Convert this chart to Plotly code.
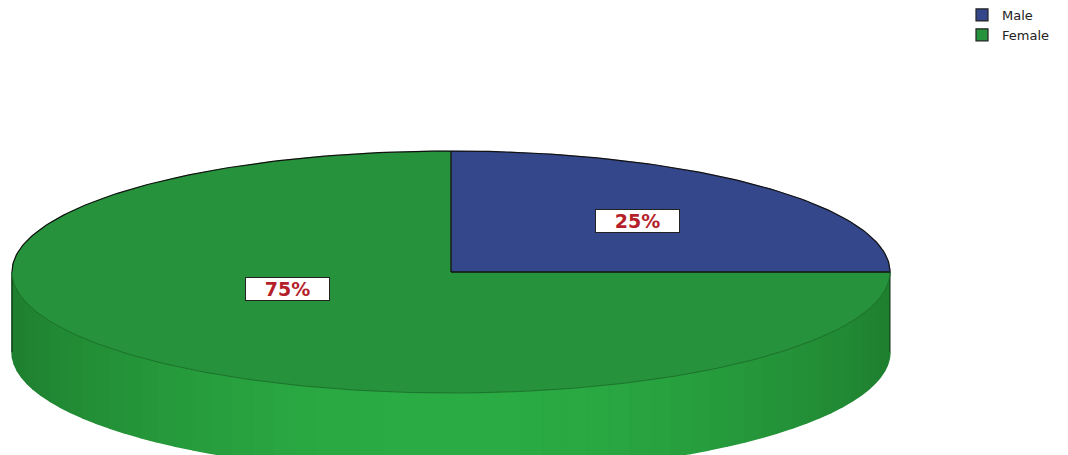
import numpy as np
import plotly.graph_objects as go

categories = ["Male", "Female"]
percentages = [25, 75]
top_colors = ["#33478A", "#26923B"]

# geometry (pixel-like axis units)
W, H = 1068, 455
cx, cy, rx, ry, depth = 451, 272, 439, 121, 80

fig = go.Figure()

# --- side of the cylinder (front half), shaded in vertical strips
n = 60
ts = np.linspace(0, np.pi, n + 1)
def side_color(t):
    c = np.cos(t)
    k = 1 - abs(c) ** 2
    lo = np.array([31, 128, 48])
    hi = np.array([43, 172, 68])
    col = lo + (hi - lo) * k
    return "rgb(%d,%d,%d)" % tuple(col)

for i in range(n):
    t = np.linspace(ts[i], ts[i + 1], 4)
    xt = cx + rx * np.cos(t)
    yt = cy + ry * np.sin(t)
    xs = list(xt) + list(xt[::-1])
    ys = list(yt) + list((yt + depth)[::-1])
    colr = side_color((ts[i] + ts[i + 1]) / 2)
    fig.add_trace(go.Scatter(x=xs, y=ys, mode="lines", fill="toself",
                             fillcolor=colr, line=dict(color=colr, width=1.5),
                             hoverinfo="skip", showlegend=False))

# left/right side edges
for t in [0, np.pi]:
    xe = cx + rx * np.cos(t)
    fig.add_trace(go.Scatter(x=[xe, xe], y=[cy, cy + depth], mode="lines",
                             line=dict(color="rgba(0,0,0,0.6)", width=1.2),
                             hoverinfo="skip", showlegend=False))

# --- top face slices
start = 0.0
total = sum(percentages)
for cat, p, col in zip(categories, percentages, top_colors):
    a = np.linspace(start, start + 2 * np.pi * p / total, 200)
    xs = [cx] + list(cx + rx * np.sin(a)) + [cx]
    ys = [cy] + list(cy - ry * np.cos(a)) + [cy]
    fig.add_trace(go.Scatter(x=xs, y=ys, mode="lines", fill="toself",
                             fillcolor=col, line=dict(color=col, width=0.5),
                             hoverinfo="skip", showlegend=False))
    start += 2 * np.pi * p / total

# radial boundaries
start = 0.0
for p in percentages:
    fig.add_trace(go.Scatter(x=[cx, cx + rx * np.sin(start)],
                             y=[cy, cy - ry * np.cos(start)], mode="lines",
                             line=dict(color="#111111", width=1.3),
                             hoverinfo="skip", showlegend=False))
    start += 2 * np.pi * p / total

# outline: back arc dark, front arc subtle
tb = np.linspace(np.pi, 2 * np.pi, 200)
fig.add_trace(go.Scatter(x=cx + rx * np.cos(tb), y=cy + ry * np.sin(tb), mode="lines",
                         line=dict(color="#111111", width=1.2),
                         hoverinfo="skip", showlegend=False))
tf = np.linspace(0, np.pi, 200)
fig.add_trace(go.Scatter(x=cx + rx * np.cos(tf), y=cy + ry * np.sin(tf), mode="lines",
                         line=dict(color="rgba(20,80,30,0.5)", width=1),
                         hoverinfo="skip", showlegend=False))

# legend entries
for cat, col in zip(categories, top_colors):
    fig.add_trace(go.Bar(x=[None], y=[None], name=cat,
                         marker=dict(color=col, line=dict(color="#222222", width=1.2))))

# labels
label_pos = [(637, 221), (287, 289)]
for p, (lx, ly) in zip(percentages, label_pos):
    fig.add_annotation(x=lx, y=ly, xref="x", yref="y", text="<b>%d%%</b>" % p,
                       showarrow=False, bgcolor="white", bordercolor="#222222",
                       borderwidth=1, width=81, height=20,
                       font=dict(family="DejaVu Sans", size=19, color="#B51F2A"))

fig.update_layout(
    width=W, height=H, margin=dict(l=0, r=0, t=0, b=0),
    paper_bgcolor="white", plot_bgcolor="white",
    xaxis=dict(range=[0, W], visible=False, fixedrange=True),
    yaxis=dict(range=[H, 0], visible=False, fixedrange=True),
    showlegend=True,
    legend=dict(x=962 / W, y=1.0, xanchor="left", yanchor="top",
                font=dict(family="DejaVu Sans", size=13, color="#222222"),
                itemwidth=30, tracegroupgap=0, bgcolor="rgba(0,0,0,0)"),
)

fig.write_html("out.html", config={"displayModeBar": False},
               post_script="document.body.style.margin='0';document.body.style.overflow='hidden';")
